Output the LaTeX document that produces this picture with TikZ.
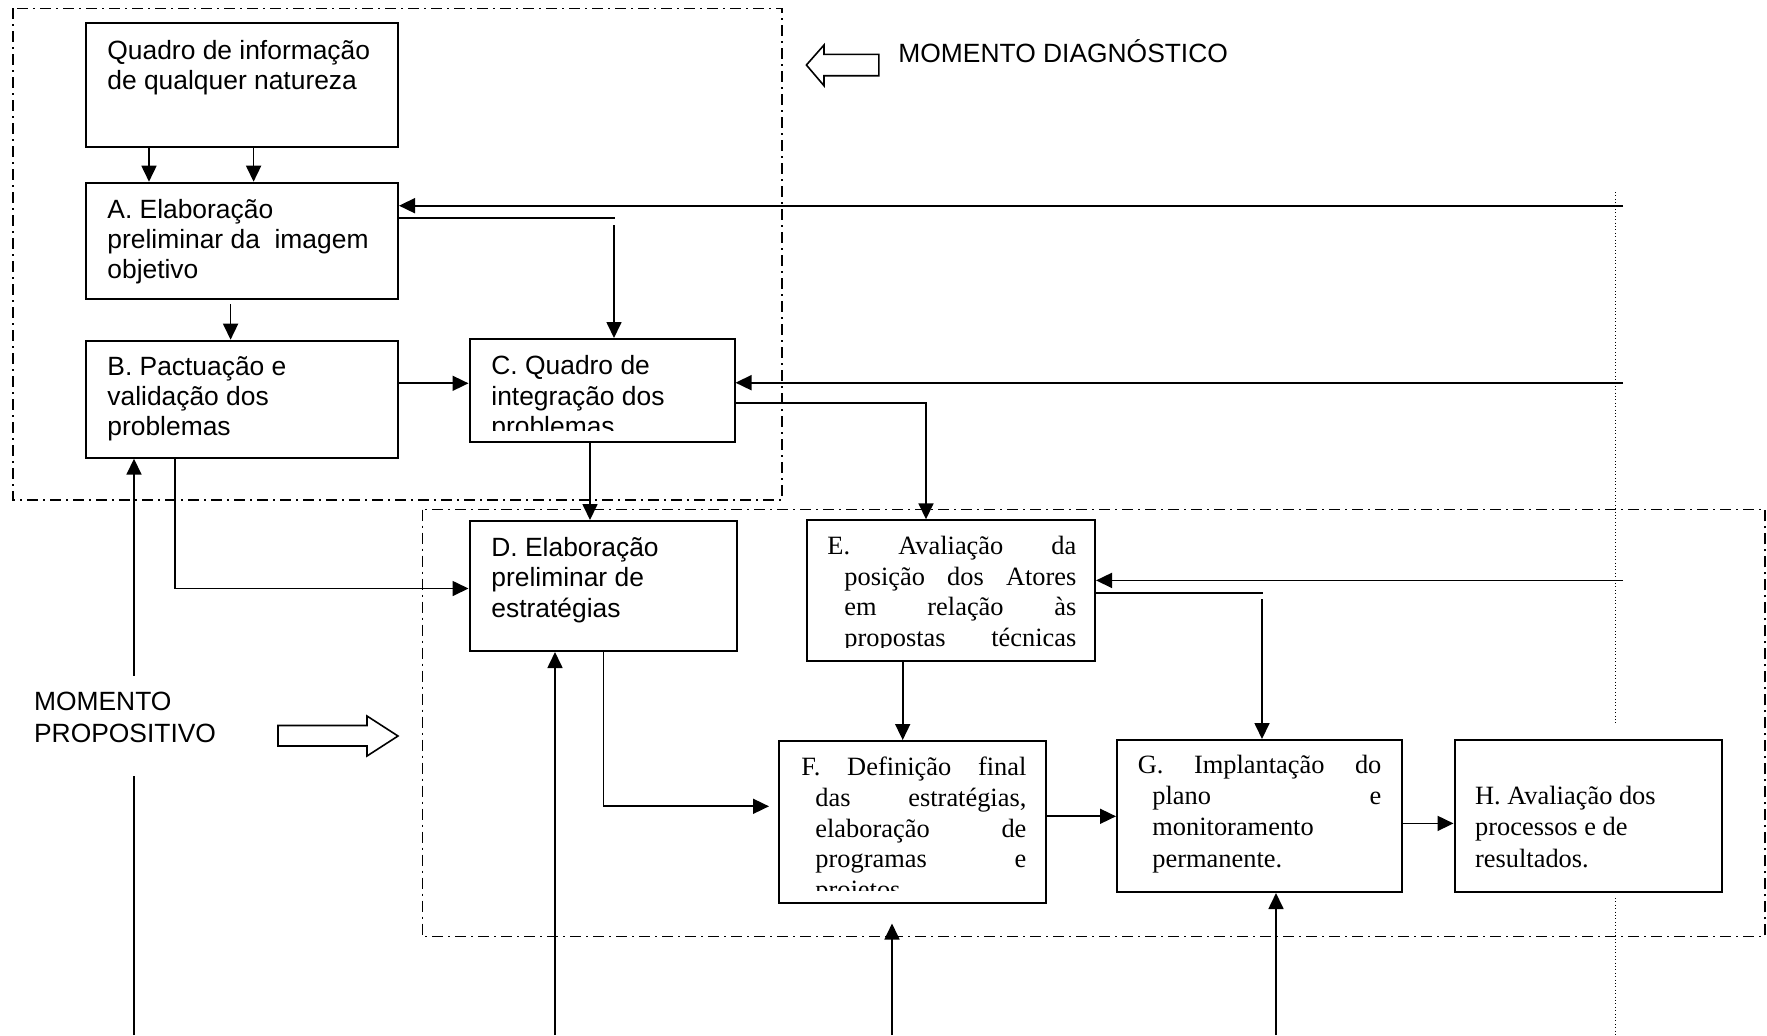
\documentclass[tikz,border=0pt]{standalone}
\usepackage{fontspec}
\setmainfont{Liberation Serif}
\newfontfamily\arialf{Liberation Sans}
\usetikzlibrary{arrows.meta,fit}
\begin{document}
\begin{tikzpicture}[x=0.5pt,y=-0.5pt,
  box/.style={draw,line width=1pt,inner sep=0pt},
  arr/.style={line width=0.85pt,-{Triangle[length=8pt,width=7.5pt]}},
  ln/.style={line width=0.85pt},
  frame/.style={line width=0.75pt,dash pattern=on 5.5pt off 2.5pt on 1pt off 2.5pt},
  dotl/.style={line width=0.5pt,dash pattern=on 0.5pt off 1.2pt},
  sanst/.style={font=\arialf\fontsize{13.2}{15}\selectfont,anchor=base west,inner sep=0pt},
  serift/.style={font=\fontsize{13.2}{15}\selectfont,anchor=base west,inner sep=0pt},
  blockarrow/.style={draw,line width=0.8pt,fill=white}]
\useasboundingbox (0,0) rectangle (1767,1035);

% dash-dot frames
\draw[frame] (12.8,8.3) rectangle (782,500);
\draw[frame] (422.4,509.5) rectangle (1765,936.6);

% dotted vertical line
\draw[dotl] (1615,192) -- (1615,724);
\draw[dotl] (1615,898) -- (1615,1035);

% boxes
\node[box, fit={(85.7,23.3)(398,146.7)}] (Q) {};
\node[box, fit={(85.7,182.7)(398,299)}] (A) {};
\node[box, fit={(85.7,340.7)(398,457.7)}] (B) {};
\node[box, fit={(469.5,339)(734.5,441.7)}] (C) {};
\node[box, fit={(469.5,521)(736.7,651)}] (D) {};
\node[box, fit={(806.5,520.3)(1095,661)}] (E) {};
\node[box, fit={(779,741)(1046,903)}] (F) {};
\node[box, fit={(1117,740)(1402,892)}] (G) {};
\node[box, fit={(1454.5,740)(1721.5,892)}] (H) {};

% texts (sans)
\node[sanst] (q1) at (107,59.5) {Quadro de informação};
\node[sanst] (q2) at (107,89.5) {de qualquer natureza};
\node[sanst] (a1) at (107,218.3) {A. Elaboração};
\node[sanst] (a2) at (107,248.3) {preliminar da\ \ imagem};
\node[sanst] (a3) at (107,278.3) {objetivo};
\node[sanst] (b1) at (107,375) {B. Pactuação e};
\node[sanst] (b2) at (107,405) {validação dos};
\node[sanst] (b3) at (107,435) {problemas};
\begin{scope}
\clip (469.5,339) rectangle (734.5,430);
\node[sanst] (c1) at (491,374.5) {C. Quadro de};
\node[sanst] (c2) at (491,405) {integração dos};
\node[sanst] (c3) at (491,435.5) {problemas};
\end{scope}
\node[sanst] (d1) at (491,556.5) {D. Elaboração};
\node[sanst] (d2) at (491,586.8) {preliminar de};
\node[sanst] (d3) at (491,617) {estratégias};
\node[sanst] (md) at (898,62.7) {MOMENTO DIAGNÓSTICO};
\node[sanst] (mp1) at (33.7,710.6) {MOMENTO};
\node[sanst] (mp2) at (33.7,742.3) {PROPOSITIVO};

% texts (serif)
\begin{scope}
\clip (806.5,520.3) rectangle (1095,647.5);
\node[serift] (e1) at (827,554.3) {\makebox[124.5pt][s]{E. Avaliação da}};
\node[serift] (e2) at (844,585) {\makebox[116pt][s]{posição dos Atores}};
\node[serift] (e3) at (844,615.7) {\makebox[116pt][s]{em relação às}};
\node[serift] (e4) at (844,646.4) {\makebox[116pt][s]{propostas técnicas}};
\end{scope}
\begin{scope}
\clip (779,741) rectangle (1046,890.7);
\node[serift] (f1) at (801,775.7) {\makebox[112.5pt][s]{F. Definição final}};
\node[serift] (f2) at (815,806.4) {\makebox[105.5pt][s]{das estratégias,}};
\node[serift] (f3) at (815,837.1) {\makebox[105.5pt][s]{elaboração de}};
\node[serift] (f4) at (815,867.8) {\makebox[105.5pt][s]{programas e}};
\node[serift] (f5) at (815,898.5) {projetos};
\end{scope}
\node[serift] (g1) at (1137.5,773.3) {\makebox[121.75pt][s]{G. Implantação do}};
\node[serift] (g2) at (1152,804.5) {\makebox[114.5pt][s]{plano e}};
\node[serift] (g3) at (1152,835.8) {monitoramento};
\node[serift] (g4) at (1152,867) {permanente.};
\node[serift] (h1) at (1474.7,804.5) {H. Avaliação dos};
\node[serift] (h2) at (1474.7,835.8) {processos e de};
\node[serift] (h3) at (1474.7,867) {resultados.};

% block arrows
\draw[blockarrow] (806.4,65) -- (824,45) -- (824,54.3) -- (878.8,54.3) -- (878.8,75.7) -- (824,75.7) -- (824,85.7) -- cycle;
\draw[blockarrow] (278,725.5) -- (367,725.5) -- (367,716) -- (398,736) -- (367,756) -- (367,746) -- (278,746) -- cycle;

% free-end coordinates
\coordinate (fbA) at (1623,205.7);
\coordinate (fbC) at (1623,382.7);
\coordinate (fbE) at (1623,580.4);
\coordinate (bot1) at (134,1035);
\coordinate (gap1) at (134,776);
\coordinate (gap2) at (134,675.7);
\coordinate (bot2) at (555,1035);
\coordinate (bot3) at (892,1035);
\coordinate (tip3) at (892,923.5);
\coordinate (bot4) at (1276,1035);
\coordinate (acEnd) at (615,218.3);
\coordinate (acStart) at (614,225);
\coordinate (egEnd) at (1262.7,593);
\coordinate (egStart) at (1262,599);

% connectors
\draw[arr] (149,0 |- Q.south) -- (149,0 |- A.north);
\draw[arr] (253.6,0 |- Q.south) -- (253.6,0 |- A.north);
\draw[arr,shorten <=2pt] (230.6,0 |- A.south) -- (230.6,0 |- B.north);
\draw[arr] (fbA) -- (A.east |- fbA);
\draw[ln] (A.east |- acEnd) -- (acEnd);
\draw[arr] (acStart) -- (acStart |- C.north);
\draw[arr] (B.east |- 0,383.3) -- (C.west |- 0,383.3);
\draw[arr] (fbC) -- (C.east |- fbC);
\draw[arr] (C.east |- 0,402.7) -- (926,402.7) -- (926,0 |- E.north);
\draw[arr] (590,0 |- C.south) -- (590,0 |- D.north);
\draw[ln] (bot1) -- (gap1);
\draw[arr] (gap2) -- (gap2 |- B.south);
\draw[arr] (175,0 |- B.south) -- (175,588.5) -- (D.west |- 0,588.5);
\draw[arr] (bot2) -- (bot2 |- D.south);
\draw[arr,shorten >=4.5pt] (603.6,0 |- D.south) -- (603.6,806.3) -- (F.west |- 0,806.3);
\draw[arr] (fbE) -- (E.east |- fbE);
\draw[ln] (E.east |- egEnd) -- (egEnd);
\draw[arr] (egStart) -- (egStart |- G.north);
\draw[arr] (902.7,0 |- E.south) -- (902.7,0 |- F.north);
\draw[arr] (F.east |- 0,816.3) -- (G.west |- 0,816.3);
\draw[arr] (G.east |- 0,823.4) -- (H.west |- 0,823.4);
\draw[arr] (bot3) -- (tip3);
\draw[arr] (bot4) -- (bot4 |- G.south);
\end{tikzpicture}
\end{document}
